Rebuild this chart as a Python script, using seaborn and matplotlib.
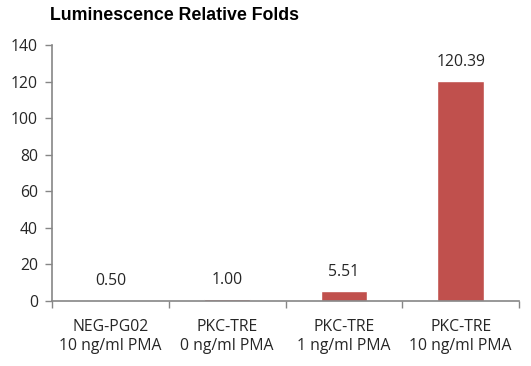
import matplotlib
matplotlib.use("Agg")
import matplotlib.pyplot as plt
import seaborn as sns
import pandas as pd
import numpy as np

categories = ["NEG-PG02\n10 ng/ml PMA", "PKC-TRE\n0 ng/ml PMA", "PKC-TRE\n1 ng/ml PMA", "PKC-TRE\n10 ng/ml PMA"]
values = [0.50, 1.00, 5.51, 120.39]
labels = ["0.50", "1.00", "5.51", "120.39"]
yticks = [0, 20, 40, 60, 80, 100, 120, 140]

sns.set_theme(style="white")
plt.rcParams['font.family'] = ['Open Sans', 'DejaVu Sans']

df = pd.DataFrame({"cat": categories, "val": values})

fig = plt.figure(figsize=(5.31, 3.66), dpi=100)
ax = fig.add_axes([52/531, 1 - 301/366, (519 - 52)/531, (301 - 45)/366])
sns.barplot(data=df, x="cat", y="val", color="#C0504D", saturation=1, width=0.4, ax=ax)

for i, (v, t) in enumerate(zip(values, labels)):
    ax.text(i, v + 6, t, ha="center", va="bottom", fontsize=11.3, color="#262626")

ax.set_ylim(0, 140)
ax.set_yticks(yticks)
ax.set_xlim(-0.5, 3.5)
ax.set_xlabel("")
ax.set_ylabel("")
ax.set_xticks(range(len(categories)))
ax.set_xticklabels(categories, fontsize=11.3, color="#262626", linespacing=1.25)
ax.set_xticks(np.arange(-0.5, 4.0, 1.0), minor=True)
ax.tick_params(axis="x", which="major", length=0, pad=13)
ax.tick_params(axis="x", which="minor", length=5, width=1, color="#868686", direction="out", bottom=True)
ax.tick_params(axis="y", length=5, width=1, color="#868686", direction="out", left=True, labelsize=11.3, labelcolor="#262626", pad=5)
for s in ["top", "right"]:
    ax.spines[s].set_visible(False)
for s in ["left", "bottom"]:
    ax.spines[s].set_color("#868686")
    ax.spines[s].set_linewidth(1.2)

fig.text(50/531, 1 - 16/366, "Luminescence Relative Folds", fontsize=12.8, fontweight="bold",
         family="Liberation Sans", ha="left", va="center", color="black")

fig.savefig("out.png", dpi=100)
